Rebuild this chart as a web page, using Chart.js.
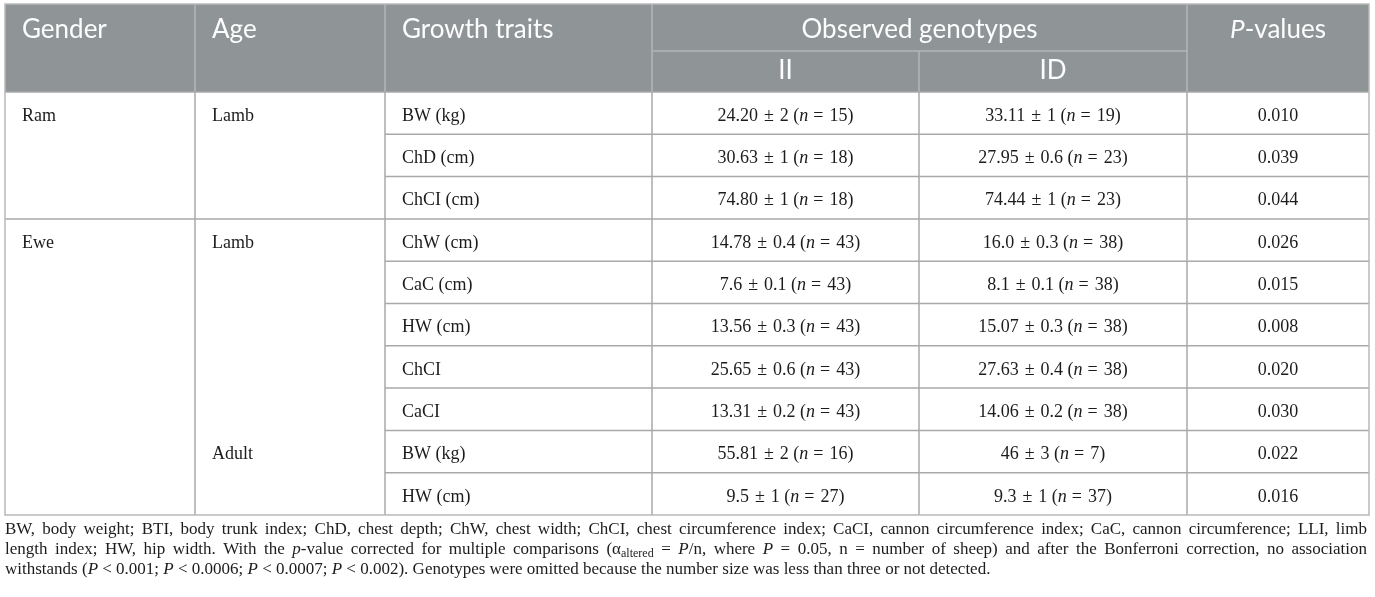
<!DOCTYPE html>
<html><head><meta charset="utf-8">
<script src="https://cdn.jsdelivr.net/npm/chart.js@4.4.1/dist/chart.umd.min.js"></script>
<style>html,body{margin:0;padding:0;background:#fff}#wrap{width:1375px;height:597px;position:relative}</style>
</head><body><div id="wrap"><canvas id="c"></canvas></div>
<script>
// ---- data ----
const genders = ["Ram","Ram","Ram","Ewe","Ewe","Ewe","Ewe","Ewe","Ewe","Ewe"];
const ages = ["Lamb","Lamb","Lamb","Lamb","Lamb","Lamb","Lamb","Lamb","Adult","Adult"];
const traits = ["BW (kg)","ChD (cm)","ChCI (cm)","ChW (cm)","CaC (cm)","HW (cm)","ChCI","CaCI","BW (kg)","HW (cm)"];
const iiMean = ["24.20","30.63","74.80","14.78","7.6","13.56","25.65","13.31","55.81","9.5"];
const iiSE = ["2","1","1","0.4","0.1","0.3","0.6","0.2","2","1"];
const iiN = [15,18,18,43,43,43,43,43,16,27];
const idMean = ["33.11","27.95","74.44","16.0","8.1","15.07","27.63","14.06","46","9.3"];
const idSE = ["1","0.6","1","0.3","0.1","0.3","0.4","0.2","3","1"];
const idN = [19,23,23,38,38,38,38,38,7,37];
const pValues = ["0.010","0.039","0.044","0.026","0.015","0.008","0.020","0.030","0.022","0.016"];
const headTop = ["Gender","Age","Growth traits","Observed genotypes"];
const genotypes = ["II","ID"];
const pHeader = [{t:"P",i:true},{t:"-values"}];
const footnote = [
  [{t:"BW, body weight; BTI, body trunk index; ChD, chest depth; ChW, chest width; ChCI, chest circumference index; CaCI, cannon circumference index; CaC, cannon circumference; LLI, limb"}],
  [{t:"length index; HW, hip width. With the "},{t:"p",i:true},{t:"-value corrected for multiple comparisons (α"},{t:"altered",sub:true},{t:" = "},{t:"P",i:true},{t:"/n, where "},{t:"P",i:true},{t:" = 0.05, n = number of sheep) and after the Bonferroni correction, no association"}],
  [{t:"withstands ("},{t:"P",i:true},{t:" < 0.001; "},{t:"P",i:true},{t:" < 0.0006; "},{t:"P",i:true},{t:" < 0.0007; "},{t:"P",i:true},{t:" < 0.002). Genotypes were omitted because the number size was less than three or not detected."}]
];

// ---- layout (not data) ----
const COLS = [0,190,380,647,914,1182,1364]; // offsets from chart area left
const SERIF = '"Liberation Serif","DejaVu Serif",serif';
const SANS = 'Lato,"Open Sans",sans-serif';
const GAP = 6;

function fontFor(seg, size, fam){
  return (seg.i ? 'italic ' : '') + (seg.sub ? Math.round(size*0.68) : size) + 'px ' + fam;
}
function segW(ctx, s, size, fam){ if(s.gap) return s.gap; ctx.font=fontFor(s,size,fam); return ctx.measureText(s.t).width; }
function drawRich(ctx, segs, x, y, size, fam, align, color){
  let w=0; segs.forEach(s=>w+=segW(ctx,s,size,fam));
  let cx = align==='center' ? x - w/2 : x;
  ctx.fillStyle = color; ctx.textBaseline='middle'; ctx.textAlign='left';
  segs.forEach(s=>{ const sw=segW(ctx,s,size,fam); if(!s.gap){ctx.font=fontFor(s,size,fam); ctx.fillText(s.t, cx, y + (s.sub?4:0));} cx += sw;});
}
function drawJustified(ctx, segs, x, y, width, size, fam, color, justify){
  const toks=[];
  segs.forEach(s=>{ s.t.split(/( )/).forEach(p=>{ if(p!=='') toks.push({t:p,i:s.i,sub:s.sub,sp:p===' '}); }); });
  let nat=0, nsp=0;
  toks.forEach(t=>{ctx.font=fontFor(t,size,fam); t.w=ctx.measureText(t.t).width; nat+=t.w; if(t.sp) nsp++;});
  const extra = justify && nsp ? (width-nat)/nsp : 0;
  let cx=x; ctx.fillStyle=color; ctx.textBaseline='middle'; ctx.textAlign='left';
  toks.forEach(t=>{ if(t.sp){cx+=t.w+extra;return;} ctx.font=fontFor(t,size,fam); ctx.fillText(t.t,cx,y+(t.sub?4:0)); cx+=t.w;});
}
function cellSegs(m, se, n){
  return [{t:m},{gap:GAP},{t:"±"},{gap:GAP},{t:se+" ("},{t:"n",i:true},{gap:GAP-1},{t:"="},{gap:GAP},{t:n+")"}];
}

const tablePlugin = {
  id:'table',
  afterDraw(chart){
    const ctx=chart.ctx, a=chart.chartArea, ys=chart.scales.y;
    const L=a.left, X=COLS.map(c=>L+c);
    const top=4, mid=51, hb=a.top, bottom=a.bottom;
    const band = (ys.getPixelForValue(1)-ys.getPixelForValue(0));
    const rowTop = i => ys.getPixelForValue(i)-band/2;
    ctx.save();
    ctx.fillStyle='#8f9497'; ctx.fillRect(X[0],top,X[6]-X[0],hb-top);
    ctx.strokeStyle='#b3b7ba'; ctx.lineWidth=1.5;
    ctx.beginPath();
    [1,2,3,5].forEach(k=>{ctx.moveTo(X[k],top);ctx.lineTo(X[k],hb);});
    ctx.moveTo(X[4],mid);ctx.lineTo(X[4],hb);
    ctx.moveTo(X[3],mid);ctx.lineTo(X[5],mid);
    ctx.stroke();
    ctx.strokeStyle='#a9a9a9'; ctx.lineWidth=1.5;
    ctx.beginPath();
    for(let i=1;i<traits.length;i++){
      const y=rowTop(i);
      const x0 = genders[i]!==genders[i-1] ? X[0] : X[2];
      ctx.moveTo(x0,y); ctx.lineTo(X[6],y);
    }
    for(let k=1;k<6;k++){ctx.moveTo(X[k],hb);ctx.lineTo(X[k],bottom);}
    ctx.moveTo(X[0],hb);ctx.lineTo(X[6],hb);
    ctx.stroke();
    ctx.strokeStyle='#b9b9b9'; ctx.lineWidth=1.5;
    ctx.strokeRect(X[0],top,X[6]-X[0],bottom-top);
    const hy=30, hy2=71, white='#fdfdfd', hs=26;
    [0,1,2].forEach(k=>drawRich(ctx,[{t:headTop[k]}],X[k]+17,hy,hs,SANS,'left',white));
    drawRich(ctx,[{t:headTop[3]}],(X[3]+X[5])/2,hy,hs,SANS,'center',white);
    drawRich(ctx,pHeader,(X[5]+X[6])/2,hy,hs,SANS,'center',white);
    genotypes.forEach((g,k)=>drawRich(ctx,[{t:g}],(X[3+k]+X[4+k])/2,hy2,hs,SANS,'center',white));
    const tc='#1c1c1c', fs=18;
    traits.forEach((t,i)=>{
      const yc=ys.getPixelForValue(i)+3;
      if(i===0||genders[i]!==genders[i-1]) drawRich(ctx,[{t:genders[i]}],X[0]+17,yc,fs,SERIF,'left',tc);
      if(i===0||genders[i]!==genders[i-1]||ages[i]!==ages[i-1]) drawRich(ctx,[{t:ages[i]}],X[1]+17,yc,fs,SERIF,'left',tc);
      drawRich(ctx,[{t:t}],X[2]+17,yc,fs,SERIF,'left',tc);
      drawRich(ctx,cellSegs(iiMean[i],iiSE[i],iiN[i]),(X[3]+X[4])/2,yc,fs,SERIF,'center',tc);
      drawRich(ctx,cellSegs(idMean[i],idSE[i],idN[i]),(X[4]+X[5])/2,yc,fs,SERIF,'center',tc);
      drawRich(ctx,[{t:pValues[i]}],(X[5]+X[6])/2,yc,fs,SERIF,'center',tc);
    });
    footnote.forEach((line,j)=>{
      drawJustified(ctx,line,X[0],bottom+15+j*20,X[6]-X[0]-2,17,SERIF,tc,j<footnote.length-1);
    });
    ctx.restore();
  }
};

new Chart(document.getElementById('c'),{
  type:'bar',
  data:{labels:traits,datasets:[{data:pValues.map(Number),backgroundColor:'rgba(0,0,0,0)',borderWidth:0}]},
  options:{
    indexAxis:'y',responsive:true,maintainAspectRatio:false,animation:false,events:[],
    layout:{padding:{left:5,right:6,top:92,bottom:82}},
    scales:{x:{display:false,min:0,max:1},y:{display:false,offset:true}},
    plugins:{legend:{display:false},tooltip:{enabled:false},title:{display:false}}
  },
  plugins:[tablePlugin]
});
</script>
</body></html>
